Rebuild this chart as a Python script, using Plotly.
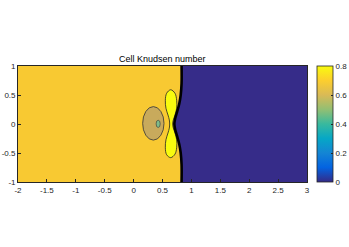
import plotly.graph_objects as go

# ---- data ----
title_text = "Cell Knudsen number"
x_ticks = [-2, -1.5, -1, -0.5, 0, 0.5, 1, 1.5, 2, 2.5, 3]
x_tick_labels = ["-2", "-1.5", "-1", "-0.5", "0", "0.5", "1", "1.5", "2", "2.5", "3"]
y_ticks = [-1, -0.5, 0, 0.5, 1]
y_tick_labels = ["-1", "-0.5", "0", "0.5", "1"]
cb_ticks = [0, 0.2, 0.4, 0.6, 0.8]
cb_labels = ["0", "0.2", "0.4", "0.6", "0.8"]
cb_range = [0, 0.8]

# shock (contour boundary) line
shock_y = [1.0, 0.7, 0.5, 0.35, 0.2, 0.1, 0.0, -0.1, -0.2, -0.35, -0.5, -0.7, -1.0]
shock_x = [0.83, 0.83, 0.815, 0.79, 0.75, 0.72, 0.705, 0.72, 0.75, 0.79, 0.815, 0.83, 0.83]

# yellow peanut-shaped contour
peanut_x = [0.676, 0.687, 0.716, 0.745, 0.745, 0.716, 0.642, 0.572, 0.549, 0.56, 0.595, 0.618,
            0.624, 0.618, 0.595, 0.56, 0.549, 0.572, 0.642, 0.716, 0.745, 0.745, 0.716, 0.687, 0.676]
peanut_y = [0.0, 0.07, 0.155, 0.27, 0.41, 0.53, 0.59, 0.53, 0.41, 0.27, 0.155, 0.07,
            0.0, -0.07, -0.155, -0.27, -0.41, -0.53, -0.58, -0.52, -0.41, -0.27, -0.155, -0.07, 0.0]

# ellipse contour (x0, x1, y0, y1)
ellipse_box = [0.157, 0.526, -0.278, 0.30]
dot_box = [0.39, 0.46, -0.06, 0.065]

# region colours (parula)
left_color = "#F8C932"
right_color = "#362C89"
peanut_color = "#F9FB0E"
ellipse_color = "#C8AA5C"
dot_color = "#7FBC8A"

parula = [
    [0.0, "#352A87"], [0.125, "#0363E1"], [0.25, "#1485D4"], [0.375, "#06A7C6"],
    [0.5, "#38B99E"], [0.625, "#92BF73"], [0.75, "#D9BA56"], [0.875, "#FCCE2E"],
    [1.0, "#F9FB0E"],
]

fig = go.Figure()

# left region
fig.add_trace(go.Scatter(
    x=[-2, -2] + shock_x,
    y=[-1, 1] + shock_y,
    fill="toself", fillcolor=left_color, mode="lines", line=dict(width=0),
    hoverinfo="skip", showlegend=False))
# right region
fig.add_trace(go.Scatter(
    x=[3, 3] + shock_x[::-1],
    y=[1, -1] + shock_y[::-1],
    fill="toself", fillcolor=right_color, mode="lines", line=dict(width=0),
    hoverinfo="skip", showlegend=False))
# peanut
fig.add_trace(go.Scatter(
    x=peanut_x, y=peanut_y, fill="toself", fillcolor=peanut_color,
    mode="lines", line=dict(color="#222222", width=0.8, shape="spline"),
    hoverinfo="skip", showlegend=False))
# shock line
fig.add_trace(go.Scatter(
    x=shock_x, y=shock_y, mode="lines",
    line=dict(color="black", width=2.6, shape="spline"),
    hoverinfo="skip", showlegend=False))
# colorbar carrier
fig.add_trace(go.Scatter(
    x=[-2, -2], y=[0, 0], mode="markers",
    marker=dict(size=1, opacity=0, color=cb_range, cmin=cb_range[0], cmax=cb_range[1],
                colorscale=parula, showscale=True,
                colorbar=dict(x=1.035, xanchor="left", y=0.5, yanchor="middle",
                              len=1.0, lenmode="fraction", thickness=16,
                              outlinecolor="#262626", outlinewidth=0.8,
                              tickvals=cb_ticks, ticktext=cb_labels,
                              ticks="inside", ticklen=2, tickcolor="#262626",
                              tickfont=dict(size=8, color="#262626"), xpad=0, ypad=0)),
    hoverinfo="skip", showlegend=False))

fig.add_shape(type="circle", xref="x", yref="y",
              x0=ellipse_box[0], x1=ellipse_box[1], y0=ellipse_box[2], y1=ellipse_box[3],
              fillcolor=ellipse_color, line=dict(color="#333333", width=0.8))
fig.add_shape(type="circle", xref="x", yref="y",
              x0=dot_box[0], x1=dot_box[1], y0=dot_box[2], y1=dot_box[3],
              fillcolor=dot_color, line=dict(color="#333333", width=0.6))

axis_common = dict(showgrid=False, zeroline=False, showline=True, mirror=True,
                   linecolor="#262626", linewidth=0.8, ticks="inside", ticklen=3,
                   tickcolor="#262626", tickfont=dict(size=8, color="#262626"),
                   automargin=False)
fig.update_xaxes(range=[-2, 3], tickvals=x_ticks, ticktext=x_tick_labels, **axis_common)
fig.update_yaxes(range=[-1, 1], tickvals=y_ticks, ticktext=y_tick_labels, **axis_common)

fig.add_annotation(text=title_text, xref="paper", yref="paper", x=0.5, y=1,
                   xanchor="center", yanchor="bottom", yshift=0, showarrow=False,
                   font=dict(size=9, color="black"))

fig.update_layout(
    width=349, height=247,
    margin=dict(l=18, r=42, t=66, b=65, autoexpand=False),
    paper_bgcolor="white", plot_bgcolor="white",
    font=dict(family="Liberation Sans, Arial, sans-serif"),
    showlegend=False,
)

fig.write_html("out.html", config={"displayModeBar": False},
               post_script="document.body.style.margin='0';document.body.style.overflow='hidden';")
